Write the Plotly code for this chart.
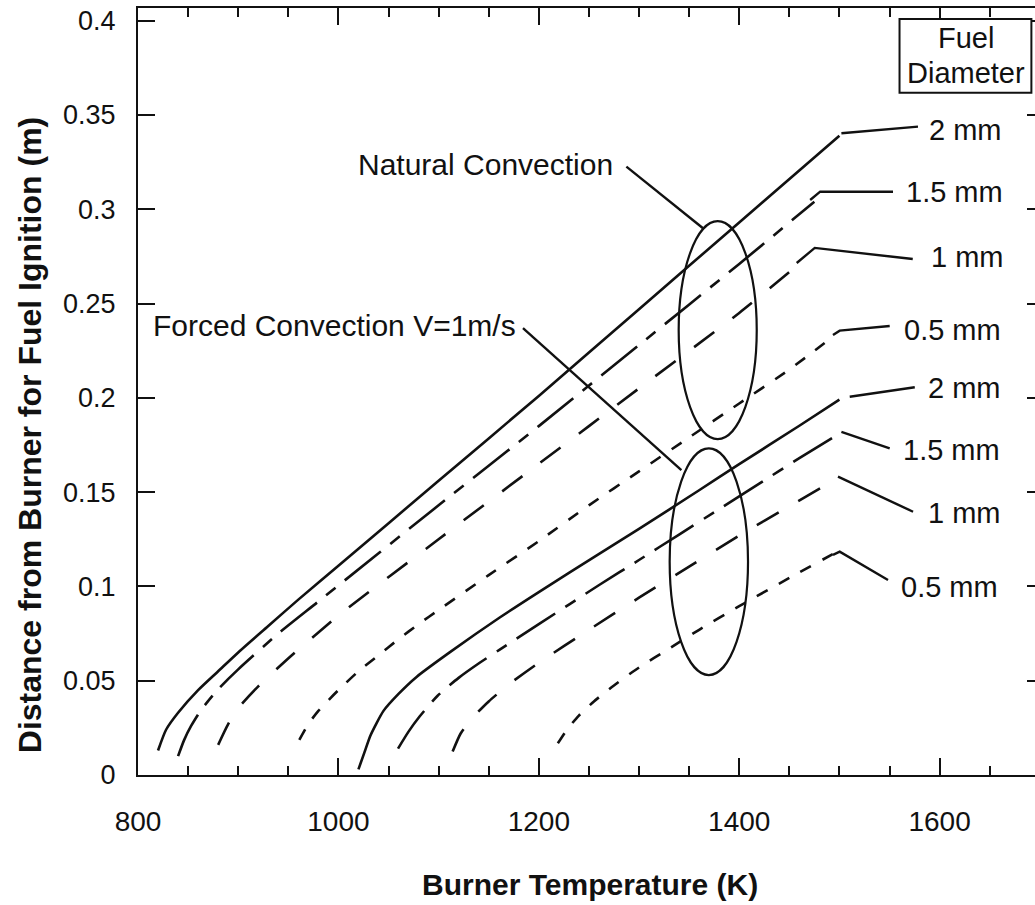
import plotly.graph_objects as go

# ---------------- data ----------------
nat_2_T = [820, 828, 840, 860, 880, 900, 930, 960, 1000, 1100, 1200, 1300, 1400, 1500]
nat_2_d = [0.013, 0.024, 0.033, 0.045, 0.055, 0.065, 0.079, 0.093, 0.111, 0.156, 0.201, 0.247, 0.293, 0.339]

nat_15_T = [840, 846, 853, 863, 880, 900, 940, 980, 1100, 1200, 1300, 1400, 1475]
nat_15_d = [0.010, 0.0185, 0.026, 0.0345, 0.0455, 0.056, 0.075, 0.092, 0.143, 0.185, 0.228, 0.271, 0.304]

nat_1_T = [880, 890, 901, 920, 940, 961, 980, 1001, 1100, 1200, 1300, 1400, 1460]
nat_1_d = [0.016, 0.027, 0.036, 0.047, 0.057, 0.067, 0.0755, 0.085, 0.125, 0.165, 0.205, 0.245, 0.271]

nat_05_T = [961, 970, 980, 1000, 1020, 1040, 1060, 1080, 1100, 1150, 1200, 1250, 1300, 1350, 1400, 1450, 1495]
nat_05_d = [0.0186, 0.027, 0.034, 0.045, 0.055, 0.0635, 0.072, 0.080, 0.0875, 0.106, 0.124, 0.143, 0.161, 0.179, 0.197, 0.215, 0.233]

for_2_T = [1020, 1026, 1032, 1045, 1060, 1078, 1111, 1161, 1200, 1261, 1300, 1360, 1400, 1460, 1500]
for_2_d = [0.003, 0.012, 0.021, 0.034, 0.043, 0.052, 0.065, 0.0835, 0.097, 0.1175, 0.1305, 0.151, 0.1648, 0.1852, 0.199]

for_15_T = [1059.5, 1070, 1081, 1099, 1120, 1141, 1161, 1200, 1261, 1300, 1340, 1380, 1420, 1460, 1500]
for_15_d = [0.014, 0.023, 0.031, 0.042, 0.0515, 0.0595, 0.0665, 0.080, 0.101, 0.114, 0.1275, 0.141, 0.1545, 0.168, 0.181]

for_1_T = [1114, 1122, 1135, 1150, 1170, 1200, 1250, 1300, 1350, 1400, 1450, 1500]
for_1_d = [0.0124, 0.022, 0.031, 0.039, 0.048, 0.0595, 0.077, 0.094, 0.1105, 0.127, 0.1425, 0.158]

for_05_T = [1219, 1228, 1240, 1255, 1275, 1300, 1330, 1360, 1400, 1450, 1500]
for_05_d = [0.0168, 0.024, 0.0315, 0.039, 0.0475, 0.057, 0.067, 0.077, 0.0895, 0.1045, 0.119]

x_ticks = [800, 1000, 1200, 1400, 1600]
y_ticks = [0, 0.05, 0.1, 0.15, 0.2, 0.25, 0.3, 0.35, 0.4]
y_tick_text = ["0", "0.05", "0.1", "0.15", "0.2", "0.25", "0.3", "0.35", "0.4"]

diam_labels = ["2 mm", "1.5 mm", "1 mm", "0.5 mm"]

# label anchor positions (data coords) and leader polylines
nat_label_pos = [(1587, 0.342), (1564, 0.3093), (1589, 0.2747), (1562, 0.236)]
nat_leaders = [
    [(1502, 0.3403), (1578.4, 0.3438)],
    [(1470.8, 0.3049), (1480.8, 0.3093), (1553.5, 0.3093)],
    [(1457.4, 0.2715), (1475.4, 0.2795), (1573.2, 0.2736)],
    [(1493.6, 0.2333), (1500.3, 0.2356), (1550.2, 0.2381)],
]
for_label_pos = [(1586, 0.2052), (1561, 0.1723), (1586, 0.1389), (1559, 0.0997)]
for_leaders = [
    [(1510.3, 0.2006), (1575.2, 0.2056)],
    [(1502, 0.182), (1550.2, 0.1732)],
    [(1498.6, 0.1582), (1573.5, 0.1396)],
    [(1493.6, 0.1167), (1500.3, 0.1184), (1548.5, 0.1034)],
]

nat_ellipse = dict(x0=1339.6, x1=1417.5, y0=0.1781, y1=0.2937)
for_ellipse = dict(x0=1330.6, x1=1408.8, y0=0.053, y1=0.1732)
nat_text_pos = (1276.5, 0.3235)
nat_pointer = [(1287.4, 0.3226), (1363.9, 0.2899)]
for_text_pos = (812.5, 0.2386)
for_pointer = [(1184.2, 0.2369), (1342.3, 0.1617)]

legend_box = dict(x0=1560, x1=1691.6, y0=0.3617, y1=0.4009)
legend_lines = [("Fuel", 1626, 0.3908), ("Diameter", 1626, 0.3723)]

# ---------------- figure ----------------
FONT = "Arial, 'Liberation Sans', Helvetica, sans-serif"
INK = "#111111"
LW = 2.6
dashes = ["solid", "46px,12px,12px,12px", "25px,23px", "12px,13px"]

fig = go.Figure()
series = [
    (nat_2_T, nat_2_d), (nat_15_T, nat_15_d), (nat_1_T, nat_1_d), (nat_05_T, nat_05_d),
    (for_2_T, for_2_d), (for_15_T, for_15_d), (for_1_T, for_1_d), (for_05_T, for_05_d),
]
for i, (xs, ys) in enumerate(series):
    fig.add_trace(go.Scatter(
        x=xs, y=ys, mode="lines",
        line=dict(color=INK, width=LW, dash=dashes[i % 4], shape="spline", smoothing=0.6),
        showlegend=False, hoverinfo="skip"))

# invisible trace to anchor right-side tick axis
fig.add_trace(go.Scatter(x=[None], y=[None], yaxis="y2", showlegend=False, hoverinfo="skip"))

shapes = []
def path_of(pts):
    return "M " + " L ".join(f"{x},{y}" for x, y in pts)

for pts in nat_leaders + for_leaders + [nat_pointer, for_pointer]:
    shapes.append(dict(type="path", path=path_of(pts), xref="x", yref="y",
                       line=dict(color=INK, width=2.4)))
for e in (nat_ellipse, for_ellipse):
    shapes.append(dict(type="circle", xref="x", yref="y", line=dict(color=INK, width=2.2), **e))
shapes.append(dict(type="rect", xref="x", yref="y", line=dict(color=INK, width=2),
                   fillcolor="white", layer="above", **legend_box))

ann = []
def label(x, y, text, xanchor="left", size=29, **kw):
    ann.append(dict(x=x, y=y, xref="x", yref="y", text=text, showarrow=False,
                    xanchor=xanchor, yanchor="middle",
                    font=dict(family=FONT, size=size, color=INK), **kw))

for (x, y), t in zip(nat_label_pos, diam_labels):
    label(x, y, t)
for (x, y), t in zip(for_label_pos, diam_labels):
    label(x, y, t)
label(nat_text_pos[0], nat_text_pos[1], "Natural Convection", xanchor="right", size=30)
label(for_text_pos[0], for_text_pos[1], "Forced Convection V=1m/s", xanchor="left", size=30)
for t, x, y in legend_lines:
    label(x, y, t, xanchor="center", size=29)

# axis titles
ann.append(dict(x=0.504, y=-0.1434, xref="paper", yref="paper",
                text="<b>Burner Temperature (K)</b>", showarrow=False,
                xanchor="center", yanchor="middle",
                font=dict(family=FONT, size=30, color=INK)))
ann.append(dict(x=-0.1204, y=0.443, xref="paper", yref="paper",
                text="<b>Distance from Burner for Fuel Ignition (m)</b>", showarrow=False,
                xanchor="center", yanchor="middle", textangle=-90,
                font=dict(family=FONT, size=32, color=INK)))

fig.update_layout(
    width=1035, height=905,
    margin=dict(l=138, r=0, t=8, b=130),
    plot_bgcolor="white", paper_bgcolor="white",
    showlegend=False,
    font=dict(family=FONT, size=27, color=INK),
    shapes=shapes, annotations=ann,
    xaxis=dict(range=[800, 1695.2], tickvals=x_ticks, ticks="inside", ticklen=17,
               tickwidth=2, tickcolor=INK, showline=True, linewidth=2, linecolor=INK,
               mirror="ticks", showgrid=False, zeroline=False,
               tickfont=dict(family=FONT, size=28, color=INK), ticklabelstandoff=20,
               minor=dict(dtick=50, tick0=800, ticks="inside", ticklen=9, tickwidth=2,
                          tickcolor=INK, showgrid=False)),
    yaxis=dict(range=[0, 0.4067], tickvals=y_ticks, ticktext=y_tick_text, ticks="inside",
               ticklen=17, tickwidth=2, tickcolor=INK, showline=True, linewidth=2,
               linecolor=INK, showgrid=False, zeroline=False,
               tickfont=dict(family=FONT, size=27, color=INK), ticklabelstandoff=15),
    yaxis2=dict(range=[0, 0.4067], overlaying="y", side="right", tickvals=y_ticks,
                ticks="inside", ticklen=8, tickwidth=2, tickcolor=INK,
                showticklabels=False, showline=False, showgrid=False, zeroline=False),
)

fig.write_html("out.html")
